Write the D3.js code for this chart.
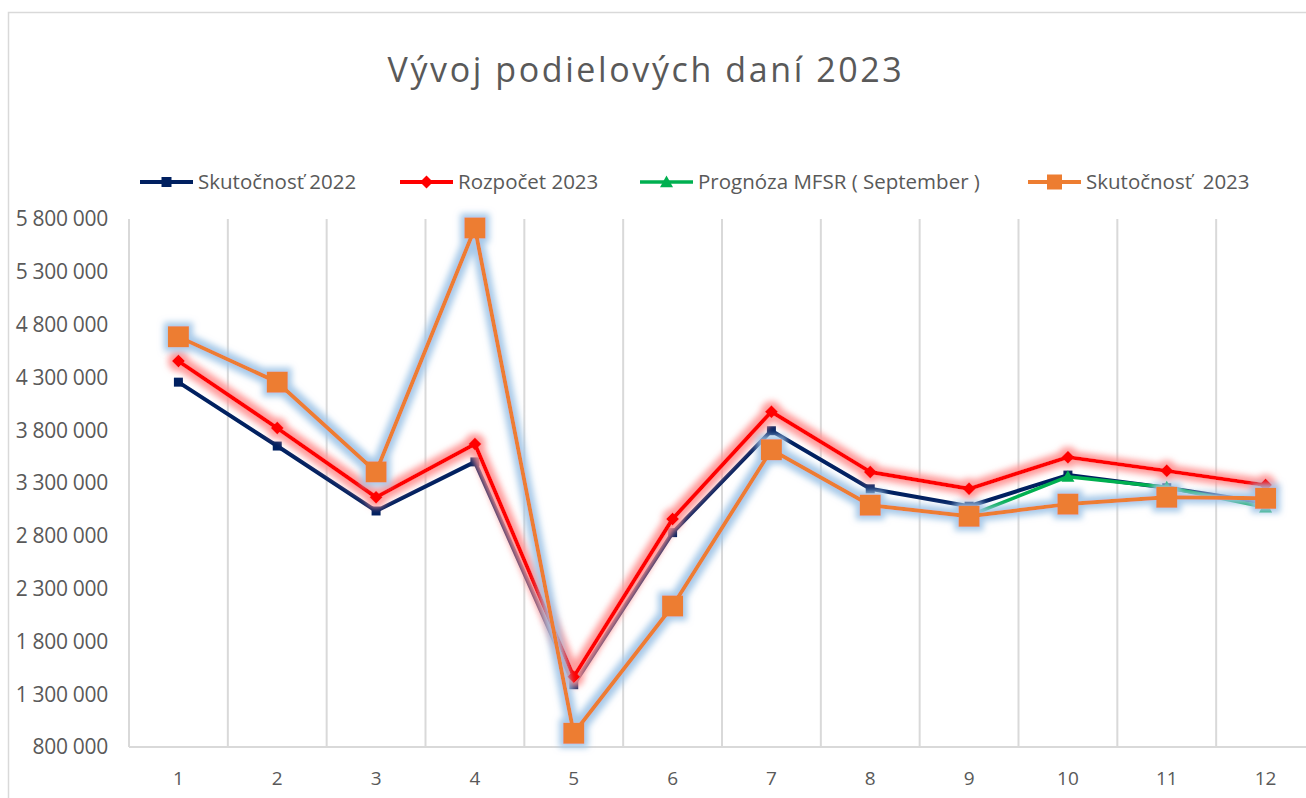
<!DOCTYPE html>
<html>
<head>
<meta charset="utf-8">
<script src="https://cdn.jsdelivr.net/npm/d3@7"></script>
<style>
  body { margin: 0; background: #fff; }
  text { font-family: "Open Sans", sans-serif; fill: #595959; white-space: pre; }
</style>
</head>
<body>
<div id="chart"></div>
<script>
// data
var months = [1, 2, 3, 4, 5, 6, 7, 8, 9, 10, 11, 12];
var skut2022 = [4255000, 3650000, 3035000, 3500000, 1390000, 2830000, 3795000, 3245000, 3080000, 3375000, 3255000, 3110000];
var rozp2023 = [4455000, 3820000, 3165000, 3670000, 1465000, 2960000, 3975000, 3405000, 3245000, 3545000, 3415000, 3280000];
var progMFSR = [null, null, null, null, null, null, null, null, 2990000, 3360000, 3260000, 3070000];
var skut2023 = [4685000, 4255000, 3405000, 5715000, 930000, 2135000, 3615000, 3090000, 2985000, 3100000, 3165000, 3155000];
var yTicks = [800000, 1300000, 1800000, 2300000, 2800000, 3300000, 3800000, 4300000, 4800000, 5300000, 5800000];

var W = 1306, H = 798;
var svg = d3.select("#chart").append("svg").attr("width", W).attr("height", H);

var defs = svg.append("defs");
function glow(id, color, r, sd) {
  var f = defs.append("filter").attr("id", id)
      .attr("x", "-20%").attr("y", "-20%").attr("width", "140%").attr("height", "140%");
  f.append("feMorphology").attr("in", "SourceAlpha").attr("operator", "dilate").attr("radius", r).attr("result", "d");
  f.append("feGaussianBlur").attr("in", "d").attr("stdDeviation", sd).attr("result", "b");
  f.append("feFlood").attr("flood-color", color).attr("flood-opacity", 0.9);
  f.append("feComposite").attr("in2", "b").attr("operator", "in").attr("result", "g");
  var m = f.append("feMerge");
  m.append("feMergeNode").attr("in", "g");
  m.append("feMergeNode").attr("in", "SourceGraphic");
}
glow("glowBlue", "#9dc3e6", 4, 3);
glow("glowRed", "#ff9090", 4, 3);

// outer chart frame
svg.append("path").attr("d", "M8.5," + H + "V12.5H" + W)
  .attr("fill", "none").attr("stroke", "#d9d9d9").attr("stroke-width", 1.5);

var x = d3.scaleBand().domain(months).range([129, 1315]).padding(0);
var y = d3.scaleLinear().domain([800000, 5800000]).range([747, 219]);
function cx(d, i) { return x(months[i]) + x.bandwidth() / 2; }

// vertical grid at category borders
var borders = months.map(function(m) { return x(m); });
svg.append("g").selectAll("line").data(borders).join("line")
  .attr("x1", function(d) { return d; }).attr("x2", function(d) { return d; })
  .attr("y1", y(5800000)).attr("y2", y(800000))
  .attr("stroke", "#d9d9d9").attr("stroke-width", 2);

// x axis line
svg.append("line").attr("x1", 129).attr("x2", W).attr("y1", 747).attr("y2", 747)
  .attr("stroke", "#d9d9d9").attr("stroke-width", 2);

var fmt = function(v) { return d3.format(",")(v).replace(/,/g, " "); };

svg.append("g").selectAll("text").data(yTicks).join("text")
  .attr("x", 108).attr("y", function(d) { return y(d); }).attr("dy", "0.35em")
  .attr("text-anchor", "end").style("font-size", "21px").style("letter-spacing", "-0.3px")
  .text(fmt);

svg.append("g").selectAll("text").data(months).join("text")
  .attr("x", function(d) { return x(d) + x.bandwidth() / 2; }).attr("y", 778)
  .attr("dy", "0.35em").attr("text-anchor", "middle").style("font-size", "19px")
  .text(function(d) { return d; });

// title
svg.append("text").attr("x", 646).attr("y", 82).attr("text-anchor", "middle")
  .style("font-size", "34px").style("letter-spacing", "2.6px")
  .text("Vývoj podielových daní 2023");

var series = [
  { name: "Skutočnosť 2022", values: skut2022, color: "#002060", width: 4, marker: "square", size: 9, filter: null },
  { name: "Rozpočet 2023", values: rozp2023, color: "#ff0000", width: 4, marker: "diamond", size: 13, filter: "glowRed" },
  { name: "Prognóza MFSR ( September )", values: progMFSR, color: "#00b050", width: 3.5, marker: "triangle", size: 13, filter: null },
  { name: "Skutočnosť  2023", values: skut2023, color: "#ed7d31", width: 4, marker: "square", size: 21, filter: "glowBlue" }
];

function markerPath(type, s) {
  var h = s / 2;
  if (type === "square") return "M" + (-h) + "," + (-h) + "h" + s + "v" + s + "h" + (-s) + "Z";
  if (type === "diamond") return "M0," + (-h) + "L" + h + ",0L0," + h + "L" + (-h) + ",0Z";
  return "M0," + (-h) + "L" + h + "," + (h * 0.8) + "L" + (-h) + "," + (h * 0.8) + "Z";
}

var line = d3.line()
  .defined(function(d) { return d != null; })
  .x(cx)
  .y(function(d) { return y(d); });

series.forEach(function(s) {
  var g = svg.append("g");
  if (s.filter) g.attr("filter", "url(#" + s.filter + ")");
  g.append("path").datum(s.values)
    .attr("d", line).attr("fill", "none")
    .attr("stroke", s.color).attr("stroke-width", s.width)
    .attr("stroke-linejoin", "round");
  g.selectAll("path.mk").data(s.values.map(function(v, i) { return { v: v, i: i }; })
      .filter(function(d) { return d.v != null; }))
    .join("path").attr("class", "mk")
    .attr("transform", function(d) { return "translate(" + cx(d.v, d.i) + "," + y(d.v) + ")"; })
    .attr("d", markerPath(s.marker, s.size))
    .attr("fill", s.color);
});

// legend
var legX = [140, 400, 640, 1028];
var leg = svg.append("g");
series.forEach(function(s, i) {
  var g = leg.append("g").attr("transform", "translate(" + legX[i] + ",182)");
  g.append("line").attr("x1", 0).attr("x2", 53).attr("stroke", s.color).attr("stroke-width", s.width);
  var ms = s.marker === "square" && s.size > 15 ? 15 : (s.marker === "square" ? 10 : 13);
  g.append("path").attr("transform", "translate(26.5,0)").attr("d", markerPath(s.marker, ms)).attr("fill", s.color);
  g.append("text").attr("x", 58).attr("dy", "0.35em").style("font-size", "20.5px").text(s.name);
});
</script>
</body>
</html>
